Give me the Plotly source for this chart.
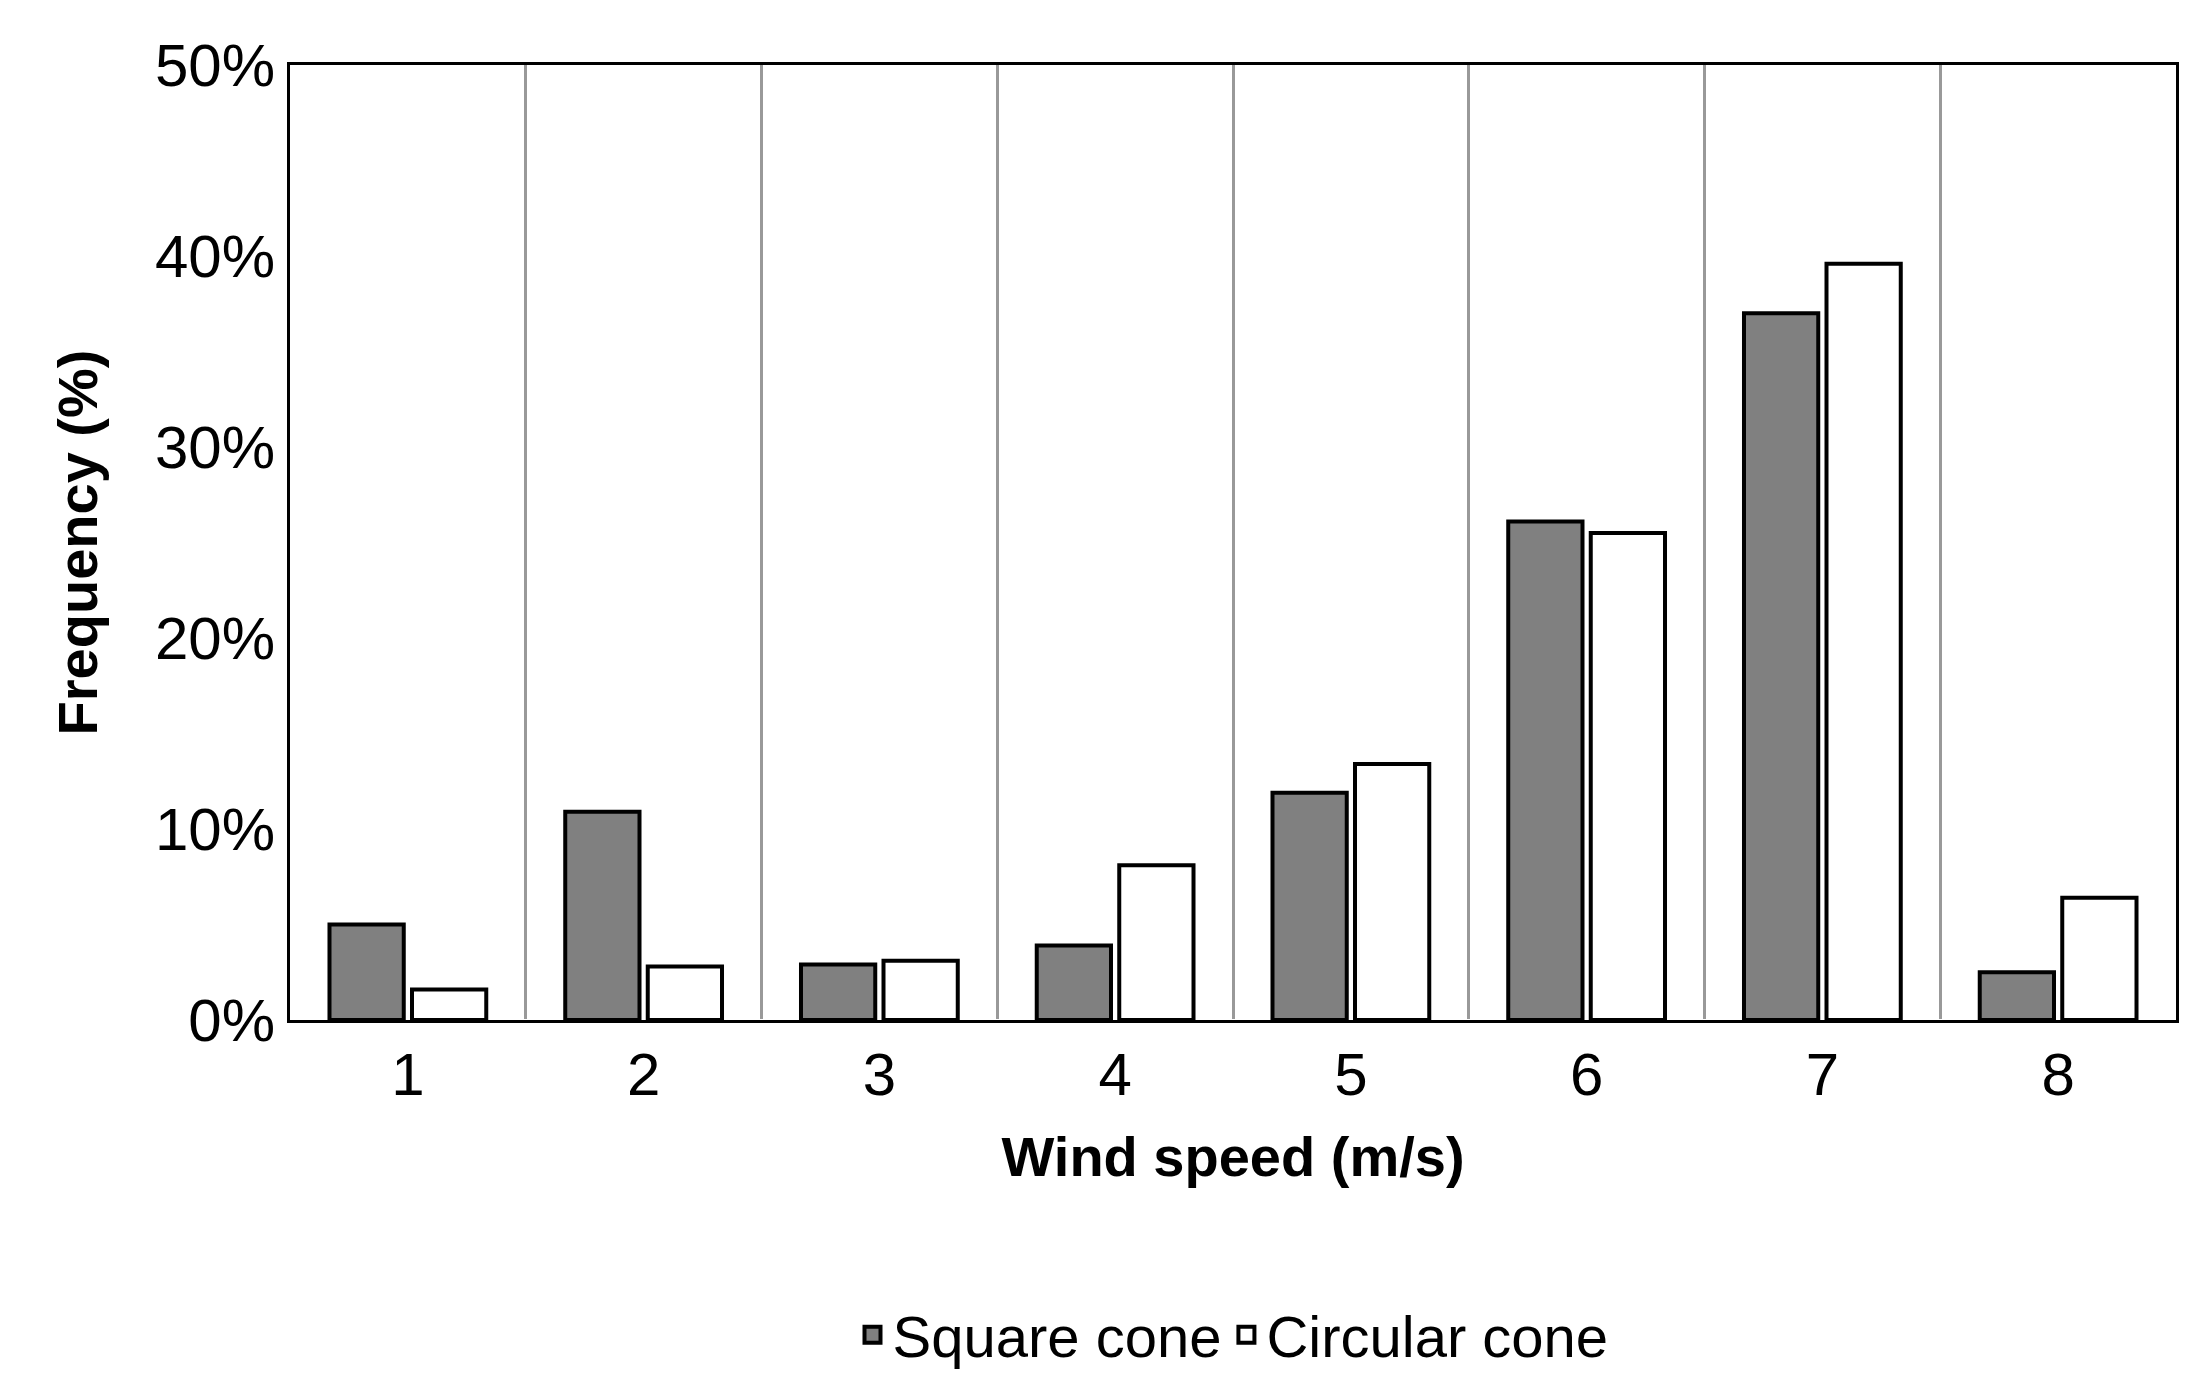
import plotly.graph_objects as go

wind_speed = [1, 2, 3, 4, 5, 6, 7, 8]
square_cone = [5.0, 10.9, 2.9, 3.9, 11.9, 26.1, 37.0, 2.5]
circular_cone = [1.6, 2.8, 3.1, 8.1, 13.4, 25.5, 39.6, 6.4]

fig = go.Figure()
fig.add_trace(go.Bar(x=wind_speed, y=square_cone, name='Square cone', showlegend=False,
                     marker=dict(color='#808080', line=dict(color='black', width=4))))
fig.add_trace(go.Bar(x=wind_speed, y=circular_cone, name='Circular cone', showlegend=False,
                     marker=dict(color='white', line=dict(color='black', width=4))))

# legend entries with bigger square symbols
for name, color in [('Square cone', '#808080'), ('Circular cone', 'white')]:
    fig.add_trace(go.Scatter(x=[None], y=[None], mode='markers', name=name,
                             marker=dict(symbol='square', size=34, color=color,
                                         line=dict(color='black', width=4))))

fig.update_layout(
    width=2189, height=1397,
    paper_bgcolor='white', plot_bgcolor='white',
    font=dict(family='Liberation Sans, Arial', size=60, color='black'),
    barmode='group', bargap=0.3, bargroupgap=0.1,
    margin=dict(l=282, r=21, t=57, b=385),
    showlegend=True,
    legend=dict(orientation='h', x=0.5, xanchor='center', y=-0.33, yanchor='middle',
                font=dict(size=58), itemwidth=30),
    xaxis=dict(range=[0.5, 8.5], tickvals=wind_speed, showgrid=False,
               showline=True, linecolor='black', linewidth=3, mirror=True,
               ticks='', minor=dict(tickvals=[i + 0.5 for i in range(1, 8)],
                                    showgrid=True, gridcolor='#999999', gridwidth=3),
               title=dict(text='<b>Wind speed (m/s)</b>', font=dict(size=56), standoff=30)),
    yaxis=dict(range=[0, 50], tickvals=[0, 10, 20, 30, 40, 50],
               ticktext=['0%', '10%', '20%', '30%', '40%', '50%'],
               showgrid=False, showline=True, linecolor='black', linewidth=3, mirror=True,
               ticks='', title=dict(text='<b>Frequency (%)</b>', font=dict(size=56), standoff=40)),
)

fig.write_html("out.html")
